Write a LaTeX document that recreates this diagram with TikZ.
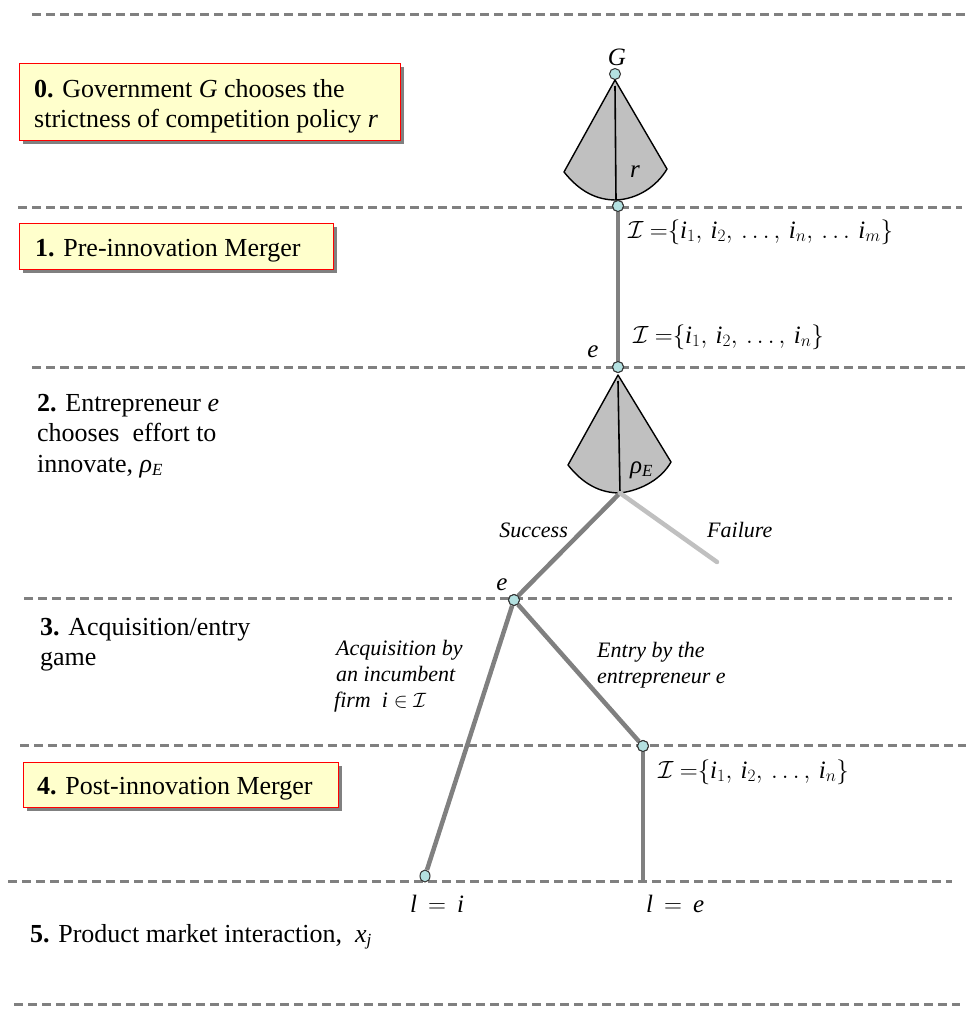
\documentclass[tikz,border=0pt]{standalone}
\usepackage{fontspec}
\setmainfont{Liberation Serif}
\usetikzlibrary{shadows,shapes.geometric}
\definecolor{dashgray}{RGB}{128,128,128}
\definecolor{branchgray}{RGB}{128,128,128}
\definecolor{failgray}{RGB}{192,192,192}
\definecolor{conefill}{RGB}{192,192,192}
\definecolor{nodecyan}{RGB}{180,225,225}
\definecolor{boxfill}{RGB}{255,255,204}
\definecolor{boxred}{RGB}{255,0,0}
\newcommand{\ti}[1]{\mbox{\itshape #1}}
\newcommand{\tsb}[1]{\mbox{\fontsize{17}{17}\selectfont\itshape #1}}
\tikzset{
  sep/.style={draw=dashgray, line width=3pt, dash pattern=on 9pt off 5pt},
  stagebox/.style={draw=boxred, line width=1.3pt, fill=boxfill, anchor=north west, inner sep=0pt,
    drop shadow={shadow xshift=3.5pt, shadow yshift=-3.5pt, fill=dashgray, opacity=1}},
  vtx/.style={circle, draw=black!80, line width=1pt, fill=nodecyan, minimum size=11pt, inner sep=0pt},
  branch/.style={draw=branchgray, line width=4.5pt},
  failbranch/.style={draw=failgray, line width=4.5pt, line cap=round},
  cone/.style={draw=black, line width=1.4pt, fill=conefill, line join=round},
  coneaxis/.style={draw=black, line width=1.6pt},
  stagetxt/.style={anchor=base west, inner sep=0pt, font=\fontsize{26}{30}\selectfont},
  lbl/.style={inner sep=0pt, font=\fontsize{22}{26}\selectfont\itshape},
  vlbl/.style={inner sep=0pt, font=\fontsize{25}{30}\selectfont\itshape},
  mlbl/.style={inner sep=0pt, font=\fontsize{25}{30}\selectfont},
}
\begin{document}
\begin{tikzpicture}[x=1pt,y=-1pt]
\useasboundingbox (0,0) rectangle (969,1012);
% stage separators
\draw[sep] (32,14) -- (969,14);
\draw[sep] (18,207) -- (962,207);
\draw[sep] (32,367) -- (969,367);
\draw[sep] (24,598) -- (952,598);
\draw[sep] (20,745) -- (966,745);
\draw[sep] (8,881) -- (952,881);
\draw[sep] (14,1004) -- (960,1004);

% stage boxes
\node[stagebox, minimum width=381pt, minimum height=77pt] (box0) at (19,63) {};
\node[stagetxt] (t0a) at (34,97) {\textbf{0.} Government \textit{G} chooses the};
\node[stagetxt] (t0b) at (34,127) {strictness of competition policy \textit{r}};
\node[stagebox, minimum width=314pt, minimum height=46pt] (box1) at (19,223) {};
\node[stagetxt] (t1) at (35,256) {\textbf{1.} Pre-innovation Merger};
\node[stagetxt] (t2a) at (37,411) {\textbf{2.} Entrepreneur \textit{e}};
\node[stagetxt] (t2b) at (37,441) {chooses\ \ effort to};
\node[stagetxt] (t2c) at (37,472) {innovate, \ti{ρ}$_{\tsb{E}}$};
\node[stagetxt] (t3a) at (40,635) {\textbf{3.} Acquisition/entry};
\node[stagetxt] (t3b) at (40,665) {game};
\node[stagebox, minimum width=315pt, minimum height=45pt] (box4) at (23,762) {};
\node[stagetxt] (t4) at (37,794) {\textbf{4.} Post-innovation Merger};
\node[stagetxt] (t5) at (30,942) {\textbf{5.} Product market interaction,\ \ \ti{x}$_{\tsb{j}}$};

% tree vertices
\node[vtx] (nG) at (615,74) {};
\node[vtx] (n1) at (618,206) {};
\node[vtx] (ne) at (618,367) {};
\node[vtx] (ne2) at (514,600) {};
\node[vtx] (nr) at (643,746) {};
\node[vtx, ellipse, minimum width=10pt, minimum height=12pt] (nl) at (425,876) {};
\coordinate (c1bot) at (616,200);
\coordinate (c2top) at (618,375);
\coordinate (c2bot) at (620,493);
\coordinate (failend) at (717,562);
\coordinate (rend) at (643,881);

% cone 1 (government)
\draw[cone] (nG.south) -- (564,172) .. controls (580,192) and (597,200) .. (c1bot)
  .. controls (638,199) and (657,186) .. (667,169) -- cycle;
\draw[coneaxis] (615,86) -- (c1bot);
% cone 2 (entrepreneur)
\draw[cone] (c2top) -- (568,465) .. controls (583,484) and (600,493) .. (c2bot)
  .. controls (643,490) and (662,478) .. (671,462) -- cycle;
\draw[coneaxis] (618,381) -- (c2bot);

% branches
\draw[branch] (n1) -- (ne);
\draw[branch] (c2bot) -- (ne2);
\draw[failbranch] (c2bot) -- (failend);
\draw[branch] (ne2) -- (nl);
\draw[branch] (ne2) -- (nr);
\draw[branch] (nr) -- (rend);
\node[vtx] (ne2b) at (ne2) {};
\node[vtx] (nrb) at (nr) {};
\node[vtx] (n1b) at (n1) {};
\node[vtx] (neb) at (ne) {};

% labels
\node[vlbl, anchor=base] (lG) at (617,65) {G};
\node[vlbl, anchor=base] (lr) at (635,177) {r};
\node[mlbl, anchor=base west] (lI1) at (628,238) {$\mathcal{I}\ {=}\{\ti{i}_1,\,\ti{i}_2,\,\ldots,\,\ti{i}_n,\,\ldots\,\ti{i}_m\}$};
\node[mlbl, anchor=base west] (lI2) at (633,343) {$\mathcal{I}\ {=}\{\ti{i}_1,\,\ti{i}_2,\,\ldots,\,\ti{i}_n\}$};
\node[vlbl, anchor=base] (le1) at (593,357) {e};
\node[mlbl, anchor=base west] (lrho) at (630,473) {\ti{ρ}$_{\tsb{E}}$};
\node[lbl, anchor=base east] (lsucc) at (568,537) {Success};
\node[lbl, anchor=base west] (lfail) at (707,537) {Failure};
\node[vlbl, anchor=base] (le2) at (502,590) {e};
\node[lbl, anchor=base west] (lacq1) at (336,655) {Acquisition by};
\node[lbl, anchor=base west] (lacq2) at (336,681) {an incumbent};
\node[lbl, anchor=base west] (lacq3) at (334,707) {firm\ \ \upshape$\ti{i}\in\mathcal{I}$};
\node[lbl, anchor=base west] (lent1) at (597,657) {Entry by the};
\node[lbl, anchor=base west] (lent2) at (597,683) {entrepreneur e};
\node[mlbl, anchor=base west] (lI3) at (658,778) {$\mathcal{I}\ {=}\{\ti{i}_1,\,\ti{i}_2,\,\ldots,\,\ti{i}_n\}$};
\node[mlbl, anchor=base west] (lli) at (410,912) {$\ti{l}\,=\,\ti{i}$};
\node[mlbl, anchor=base west] (lle) at (646,912) {$\ti{l}\,=\,\ti{e}$};
\end{tikzpicture}
\end{document}
